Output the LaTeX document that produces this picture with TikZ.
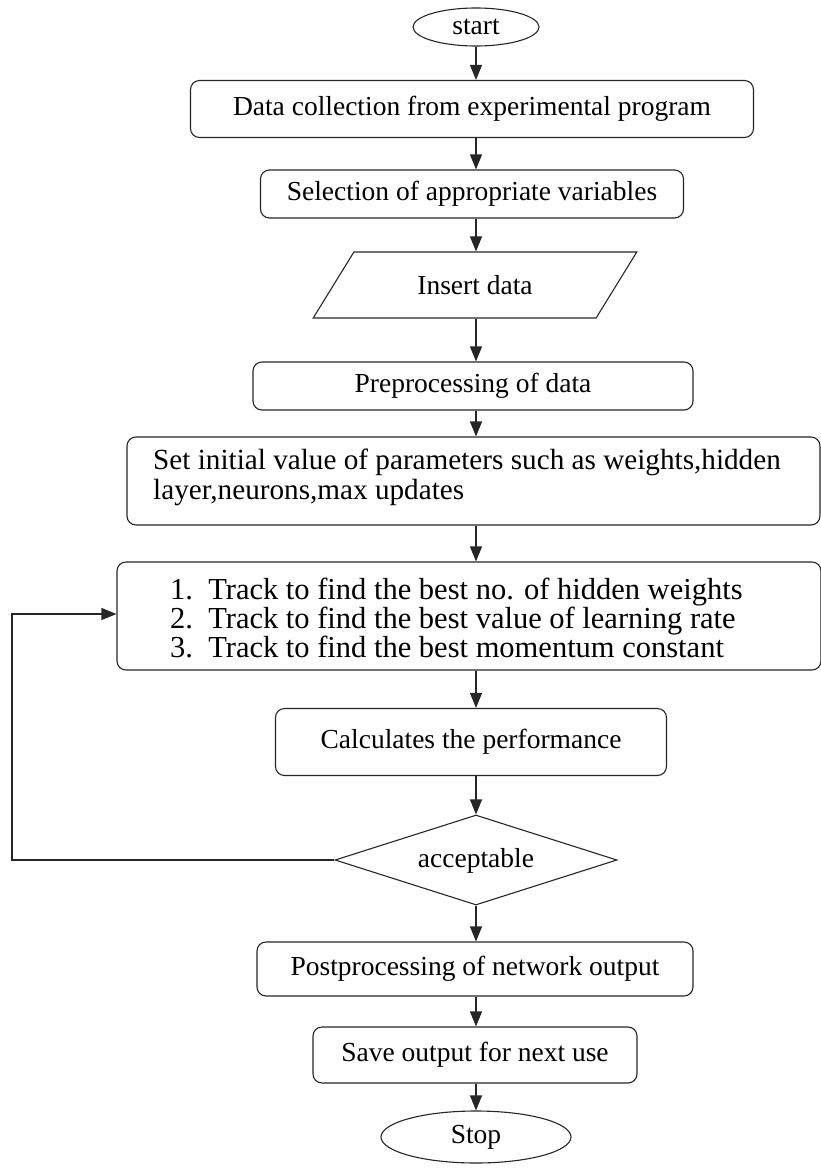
\documentclass[tikz,border=0pt]{standalone}
\usepackage{fontspec}
\setmainfont{Liberation Serif}
\usetikzlibrary{shapes.geometric,arrows.meta}
\begin{document}
\begin{tikzpicture}[x=1pt,y=-1pt,
  every node/.style={font=\fontsize{27.5}{30}\selectfont, inner sep=0pt},
  line/.style={draw=black!85, line width=1.1pt},
  rbox/.style={line, rectangle, rounded corners=9pt, align=center},
  term/.style={line, ellipse},
  arr/.style={line, -{Triangle[length=15pt,width=12pt]}}
]
\useasboundingbox (0,0) rectangle (821,1173);
\coordinate (ax) at (476,0);
\node[term, minimum width=126, minimum height=38] (start) at (476,27) {start};
\node[rbox, minimum width=563, minimum height=57] (b1) at (472,109) {Data collection from experimental program};
\node[rbox, minimum width=423, minimum height=48] (b2) at (472,194) {Selection of appropriate variables};
\node[line, trapezium, trapezium stretches=true, trapezium left angle=45, trapezium right angle=135,
      minimum width=324, minimum height=66] (ins) at (475,285) {Insert data};
\node[rbox, minimum width=440, minimum height=48] (b3) at (473,386) {Preprocessing of data};
\node[rbox, minimum width=693, minimum height=88] (b4) at (473.5,481) {};
\node[anchor=north west, align=left, font=\fontsize{29.2}{30}\selectfont] (b4t) at (153,449) {Set initial value of parameters such as weights,hidden\\layer,neurons,max updates};
\node[rbox, minimum width=704, minimum height=108] (b5) at (469,616) {};
\node[anchor=north west, align=left, font=\fontsize{30.5}{27.5}\selectfont] (b5t) at (170,578) {1.\hspace{0.5em}Track to find the best no. of hidden weights\\2.\hspace{0.5em}Track to find the best value of learning rate\\3.\hspace{0.5em}Track to find the best momentum constant};
\node[rbox, minimum width=391, minimum height=67] (b6) at (471,742) {Calculates the performance};
\node[line, diamond, minimum width=282, minimum height=90] (acc) at (476,860) {\smash{\makebox[0pt]{\raisebox{-7pt}{acceptable}}}};
\node[rbox, minimum width=436, minimum height=54] (b7) at (475,969) {Postprocessing of network output};
\node[rbox, minimum width=324, minimum height=56] (b8) at (475,1055) {Save output for next use};
\node[term, minimum width=190, minimum height=52] (stop) at (476,1137) {Stop};
\coordinate (fbl) at (12,860);
\coordinate (fbt) at (12,614);
\draw[arr] (start.south) -- (ax |- b1.north);
\draw[arr] (ax |- b1.south) -- (ax |- b2.north);
\draw[arr] (ax |- b2.south) -- (ax |- ins.north);
\draw[arr] (ax |- ins.south) -- (ax |- b3.north);
\draw[arr] (ax |- b3.south) -- (ax |- b4.north);
\draw[arr] (ax |- b4.south) -- (ax |- b5.north);
\draw[arr] (ax |- b5.south) -- (ax |- b6.north);
\draw[arr] (ax |- b6.south) -- (acc.north);
\draw[arr] (acc.south) -- (ax |- b7.north);
\draw[arr] (ax |- b7.south) -- (ax |- b8.north);
\draw[arr] (ax |- b8.south) -- (stop.north);
\draw[arr] (acc.west) -- (fbl) -- (fbt) -- (fbt -| b5.west);
\end{tikzpicture}
\end{document}
